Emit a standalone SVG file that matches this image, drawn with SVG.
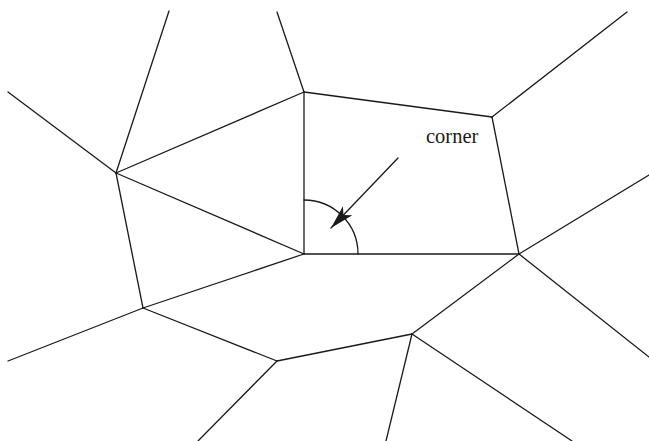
<svg xmlns="http://www.w3.org/2000/svg" width="649" height="441" viewBox="0 0 649 441">
<style>
.e{stroke:#1a1a1a;stroke-width:1.3;fill:none;stroke-linecap:round;stroke-linejoin:round}
.lbl{font-family:"Liberation Serif","Times New Roman",serif;font-size:20.5px;fill:#1a1a1a}
</style>
<defs>
<marker id="ah" markerUnits="userSpaceOnUse" viewBox="0 0 25 14" markerWidth="25" markerHeight="14" refX="24" refY="7" orient="auto">
<path d="M24,7 L0,0.5 L6,7 L0,13.5 Z" fill="#1a1a1a"/>
</marker>
</defs>
<rect width="649" height="441" fill="#fff"/>
<g id="edges" class="e">
<line x1="277" y1="12" x2="304" y2="92"/>
<line x1="169" y1="11" x2="116" y2="173"/>
<line x1="8" y1="92" x2="116" y2="173"/>
<line x1="116" y1="173" x2="304" y2="92"/>
<line x1="116" y1="173" x2="304" y2="254"/>
<line x1="304" y1="92" x2="304" y2="254"/>
<line x1="304" y1="92" x2="492" y2="117"/>
<line x1="492" y1="117" x2="627" y2="12"/>
<line x1="492" y1="117" x2="519" y2="254"/>
<line x1="304" y1="254" x2="519" y2="254"/>
<line x1="519" y1="254" x2="649" y2="175"/>
<line x1="519" y1="254" x2="649" y2="357"/>
<line x1="116" y1="173" x2="143" y2="308"/>
<line x1="143" y1="308" x2="304" y2="254"/>
<line x1="143" y1="308" x2="8" y2="361"/>
<line x1="143" y1="308" x2="277" y2="361"/>
<line x1="277" y1="361" x2="412" y2="334"/>
<line x1="277" y1="361" x2="198" y2="441"/>
<line x1="412" y1="334" x2="519" y2="254"/>
<line x1="412" y1="334" x2="386" y2="441"/>
<line x1="412" y1="334" x2="572" y2="441"/>
</g>
<g id="corner-mark">
<path class="e" d="M304,200 A54,54 0 0 1 358,254"/>
<line class="e" x1="398" y1="158" x2="331" y2="228" marker-end="url(#ah)"/>
<text class="lbl" x="426" y="143">corner</text>
</g>
</svg>
